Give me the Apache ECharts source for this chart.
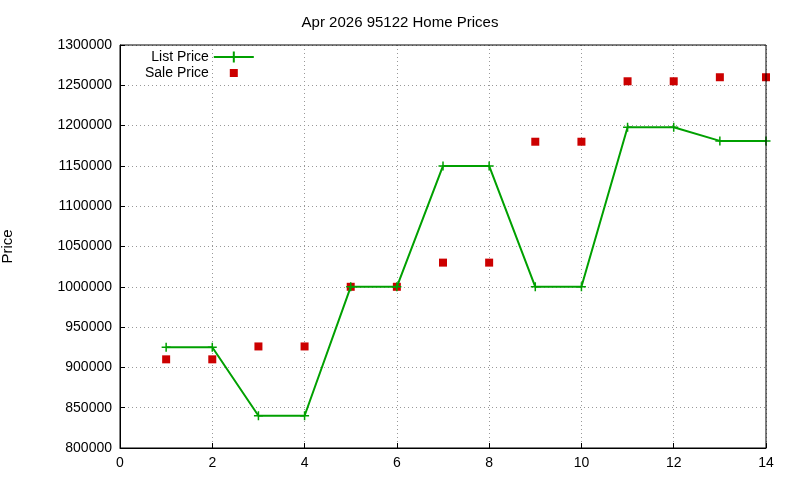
<!DOCTYPE html>
<html>
<head>
<meta charset="utf-8">
<script src="https://cdn.jsdelivr.net/npm/echarts@6/dist/echarts.min.js"></script>
<style>
  html, body { margin: 0; padding: 0; background: #fff; }
  #chart { width: 800px; height: 480px; }
</style>
</head>
<body>
<div id="chart"></div>
<script>
var months = [1, 2, 3, 4, 5, 6, 7, 8, 9, 10, 11, 12, 13, 14];
var listPrice = [925000, 925000, 840000, 840000, 1000000, 1000000, 1150000, 1150000, 1000000, 1000000, 1198000, 1198000, 1181000, 1181000];
var salePrice = [910000, 910000, 926000, 926000, 1000000, 1000000, 1030000, 1030000, 1180000, 1180000, 1255000, 1255000, 1260000, 1260000];

function pairs(vals) {
    return months.map(function (m, i) { return [m, vals[i]]; });
}

var chart = echarts.init(document.getElementById('chart'));
var font = 'Liberation Sans, Arial, sans-serif';
var dotted = { show: true, lineStyle: { color: '#999', type: [1, 3], width: 1 } };

chart.setOption({
    animation: false,
    textStyle: { fontFamily: font },
    title: {
        text: 'Apr 2026 95122 Home Prices',
        left: 'center', top: 10,
        textStyle: { fontSize: 15, fontWeight: 'normal', color: '#000', fontFamily: font }
    },
    legend: {
        orient: 'vertical',
        left: 140, top: 45,
        align: 'right',
        itemGap: 2,
        itemWidth: 40,
        itemHeight: 14,
        textStyle: { fontSize: 14, color: '#000', fontFamily: font },
        data: [
            { name: 'List Price' },
            { name: 'Sale Price', icon: 'path://M0,0L0.01,0M40,14L40.01,14M16,3L24,3L24,11L16,11Z' }
        ]
    },
    grid: { left: 120, right: 34, top: 45, bottom: 32, outerBoundsMode: 'none', containLabel: false },
    xAxis: {
        type: 'value', min: 0, max: 14, interval: 2,
        axisLine: { show: true, lineStyle: { color: '#000' } },
        axisTick: { show: true, inside: true, lineStyle: { color: '#000' } },
        axisLabel: { fontSize: 14, color: '#000', margin: 8 },
        splitLine: dotted
    },
    yAxis: {
        type: 'value', min: 800000, max: 1300000, interval: 50000,
        name: 'Price', nameLocation: 'middle', nameGap: 105,
        nameTextStyle: { fontSize: 15, color: '#000' },
        axisLine: { show: true, lineStyle: { color: '#000' } },
        axisTick: { show: true, inside: true, lineStyle: { color: '#000' } },
        axisLabel: { fontSize: 14, color: '#000', margin: 8, formatter: function (v) { return String(v); } },
        splitLine: dotted
    },
    series: [
        {
            name: 'List Price', type: 'line', data: pairs(listPrice),
            symbol: 'path://M0,5L10,5M5,0L5,10', symbolSize: 9,
            itemStyle: { color: '#00a000', borderColor: '#00a000', borderWidth: 1.5 },
            lineStyle: { color: '#00a000', width: 2 }
        },
        {
            name: 'Sale Price', type: 'scatter', data: pairs(salePrice),
            symbol: 'rect', symbolSize: 8,
            itemStyle: { color: '#cc0000', opacity: 1 }
        }
    ],
    graphic: [{
        type: 'rect', z: 100, silent: true,
        shape: { x: 120, y: 45, width: 646, height: 403 },
        style: { fill: 'none', stroke: '#000', lineWidth: 1 }
    }]
});
</script>
</body>
</html>
